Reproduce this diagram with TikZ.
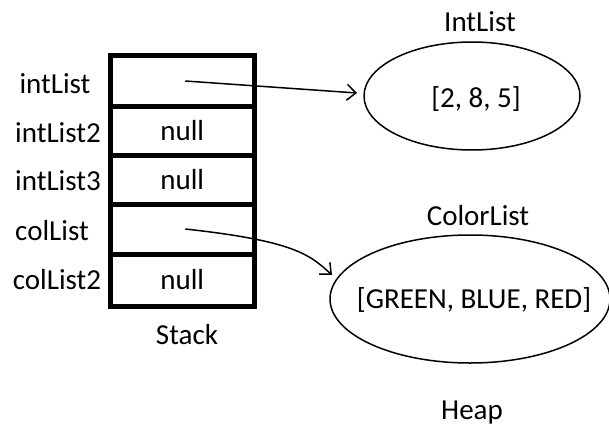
\documentclass[tikz,border=0pt]{standalone}
\usepackage{fontspec}
\setmainfont{Carlito}
\usetikzlibrary{shapes.geometric,arrows.meta}

\tikzset{
  txt/.style={font=\fontsize{29}{34}\selectfont, text=black, inner sep=0pt},
  cell/.style={txt, draw, line width=5pt, minimum width=144.5pt, inner sep=0pt, outer sep=0pt},
  heapobj/.style={draw, ellipse, line width=1.5pt, inner sep=0pt, outer sep=0pt},
  ref/.style={line width=1.5pt, -{Straight Barb[length=9pt,width=16pt,line width=1.5pt]}},
  lbl/.style={txt, anchor=base}
}

\begin{document}
\begin{tikzpicture}[x=1pt, y=-1pt]
  \useasboundingbox (0,0) rectangle (609,425);

  % stack frame: one cell per variable
  \node[cell, minimum height=50pt] (c1) at (182.25,81) {};
  \node[cell, minimum height=49pt] (c2) at (182.25,130.5) {null};
  \node[cell, minimum height=49pt] (c3) at (182.25,179.5) {null};
  \node[cell, minimum height=50pt] (c4) at (182.25,229) {};
  \node[cell, minimum height=52pt] (c5) at (182.25,280) {null};

  % variable names
  \node[lbl] (n1) at (55,93) {intList};
  \node[lbl] (n2) at (58,142) {intList2};
  \node[lbl] (n3) at (58,190) {intList3};
  \node[lbl] (n4) at (52,240) {colList};
  \node[lbl] (n5) at (57,289) {colList2};
  \node[lbl] (stack) at (187,344) {Stack};

  % heap objects
  \node[lbl] (inttitle) at (480,32) {IntList};
  \node[heapobj, minimum width=216pt, minimum height=108pt] (intlist) at (472,96) {};
  \node[lbl] (intval) at (476,107) {[2, 8, 5]};
  \node[lbl] (coltitle) at (478,225) {ColorList};
  \node[heapobj, minimum width=280pt, minimum height=128pt] (collist) at (470,299) {};
  \node[lbl] (colval) at (474,308) {[GREEN, BLUE, RED]};
  \node[lbl] (heap) at (472,419) {Heap};

  % references
  \draw[ref] ([xshift=3pt]c1.center) -- ([xshift=-7pt,yshift=3pt]intlist.west);
  \draw[ref] ([xshift=3pt]c4.center) .. controls +(110,12) and +(-22,-20) .. ([xshift=2pt,yshift=24pt]collist.west);
\end{tikzpicture}
\end{document}
